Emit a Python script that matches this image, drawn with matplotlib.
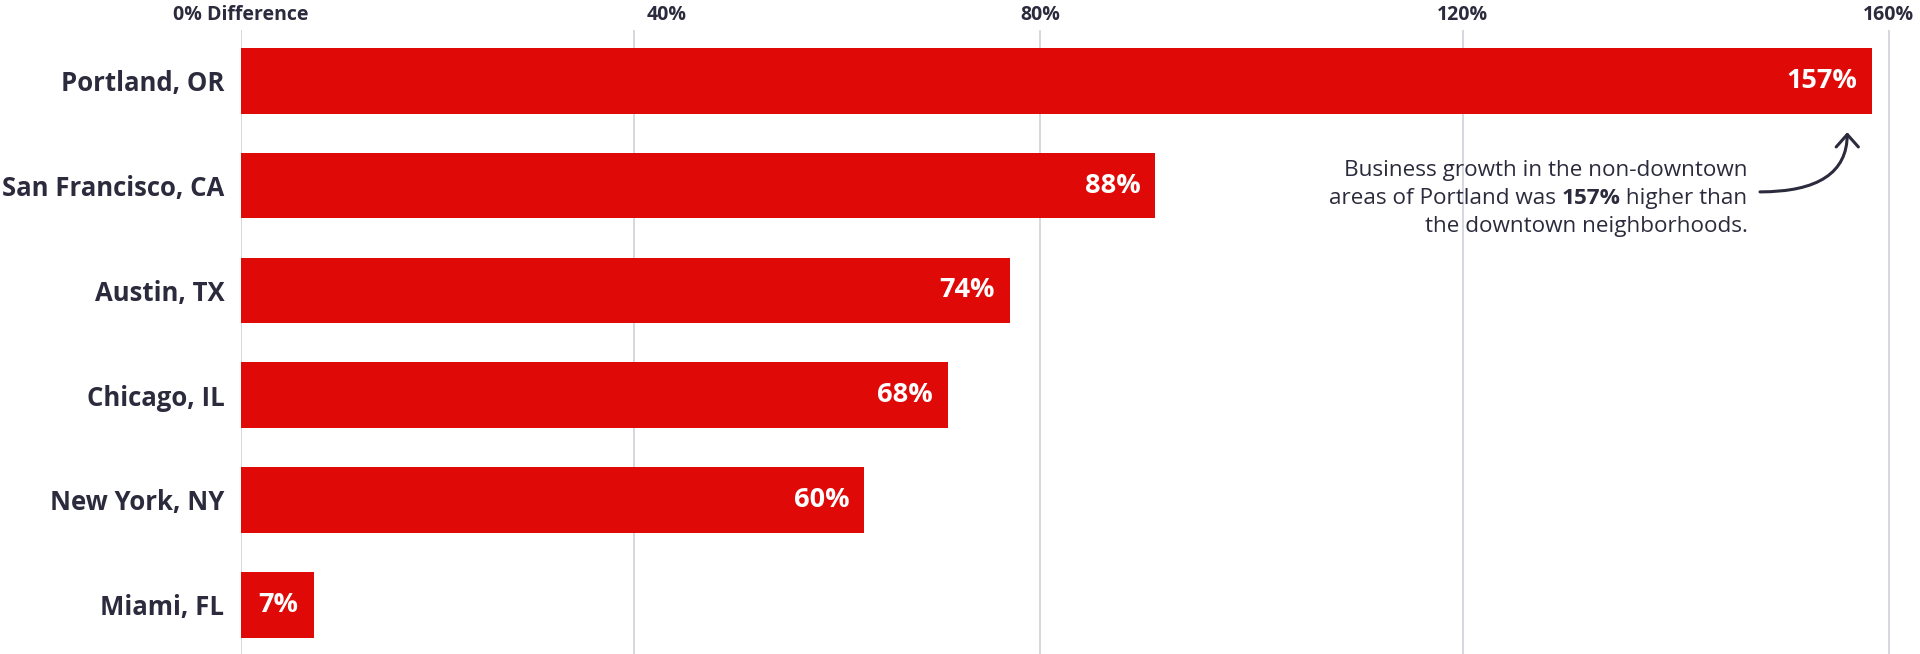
import matplotlib
matplotlib.use("Agg")
import matplotlib.pyplot as plt
from matplotlib import transforms

cities = ["Portland, OR", "San Francisco, CA", "Austin, TX", "Chicago, IL", "New York, NY", "Miami, FL"]
diffs = [157, 88, 74, 68, 60, 7]
tick_labels = ["0% Difference", "40%", "80%", "120%", "160%"]
# the source draws its gridlines slightly off the round values
grid_pos = [0, 37.85, 76.9, 117.6, 158.6]
note = ["Business growth in the non-downtown", "areas of Portland was ", "157%", " higher than",
        "the downtown neighborhoods."]

plt.rcParams["font.family"] = ["Open Sans", "DejaVu Sans"]
red = "#df0a07"
navy = "#2b2b3d"
gray = "#d3d3dc"

fig = plt.figure(figsize=(19.2, 6.54), dpi=100)
ax = fig.add_axes([241 / 1920, 0, 1 - 241 / 1920, 624 / 654])

rows = list(range(len(cities)))
ax.barh(rows, diffs, height=0.626, color=red, zorder=2)
ax.set_xlim(0, 161.6)
ax.set_ylim(5.47, -0.485)
ax.set_yticks(rows)
ax.set_yticklabels(cities, fontsize=18.5, fontweight="bold", color=navy)
ax.tick_params(axis="y", length=0, pad=12)
ax.set_xticks([])
for s in ax.spines.values():
    s.set_visible(False)
for g in grid_pos:
    ax.axvline(g, color=gray, lw=1.3, zorder=1)

# labels along the top
top = transforms.blended_transform_factory(ax.transData, fig.transFigure)
for g, lab in zip(grid_pos, tick_labels):
    if lab == "40%":
        ax.text(g + 1.15, 1 - 14.5 / 654, lab, transform=top, ha="left", va="center",
                fontsize=14, fontweight="bold", color=navy)
    else:
        ax.text(g, 1 - 14.5 / 654, lab, transform=top, ha="center", va="center",
                fontsize=14, fontweight="bold", color=navy)

# value labels inside bars
inside = transforms.offset_copy(ax.transData, fig=fig, x=-15, y=0, units="dots")
for r, v in zip(rows, diffs):
    ax.text(v, r, f"{v}%", transform=inside, ha="right", va="center",
            fontsize=19.5, fontweight="bold", color="white", zorder=3)

# annotation
xr = 145
yr = 1.12
dy = 28 / 104.7
fs = 16.2
ax.text(xr, yr - dy, note[0], ha="right", va="center", fontsize=fs, color=navy)
t3 = ax.text(xr, yr, note[3], ha="right", va="center", fontsize=fs, color=navy)
t2 = ax.annotate(note[2], xy=(0, 0), xycoords=t3, ha="right", va="bottom",
                 fontsize=fs, fontweight="bold", color=navy)
ax.annotate(note[1], xy=(0, 0), xycoords=t2, ha="right", va="bottom", fontsize=fs, color=navy)
ax.text(xr, yr + dy, note[4], ha="right", va="center", fontsize=fs, color=navy)

ax.annotate("", xy=(diffs[0] - 2.4, 0.49), xytext=(xr + 1.2, yr - 0.06),
            arrowprops=dict(arrowstyle="->,head_length=0.45,head_width=0.4", mutation_scale=20,
                            connectionstyle="angle3,angleA=0,angleB=90",
                            color=navy, lw=2.2, shrinkA=0, shrinkB=0))

fig.savefig("out.png", dpi=100)
